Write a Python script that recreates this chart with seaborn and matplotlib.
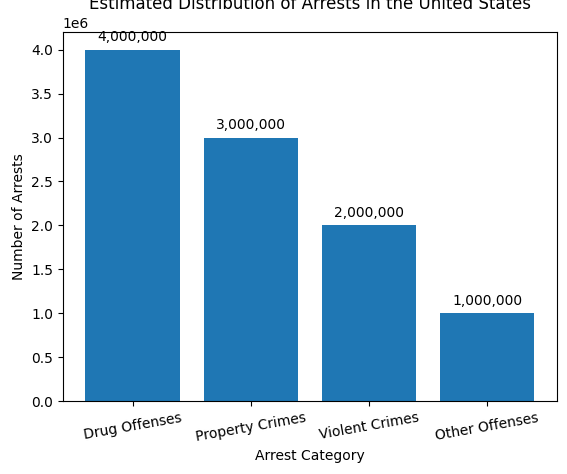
import matplotlib
matplotlib.use("Agg")
import matplotlib.pyplot as plt
import seaborn as sns
import pandas as pd

categories = ["Drug Offenses", "Property Crimes", "Violent Crimes", "Other Offenses"]
arrests = [4000000, 3000000, 2000000, 1000000]

df = pd.DataFrame({"category": categories, "arrests": arrests})

fig, ax = plt.subplots(figsize=(5.67, 4.74), dpi=100)
sns.barplot(data=df, x="category", y="arrests", color="#1f77b4", saturation=1, width=0.8, ax=ax)

for patch, val in zip(ax.patches, arrests):
    ax.annotate(f"{val:,}", (patch.get_x() + patch.get_width() / 2, patch.get_height()),
                xytext=(0, 4), textcoords="offset points", ha="center", va="bottom")

ax.set_title("Estimated Distribution of Arrests in the United States")
ax.set_xlabel("Arrest Category")
ax.set_ylabel("Number of Arrests")
ax.set_ylim(0, 4.2e6)
ax.set_xlim(-0.59, 3.59)
plt.setp(ax.get_xticklabels(), rotation=10)
fig.subplots_adjust(left=0.111, right=0.982, top=0.932, bottom=0.154)
fig.savefig("out.png", dpi=100)
